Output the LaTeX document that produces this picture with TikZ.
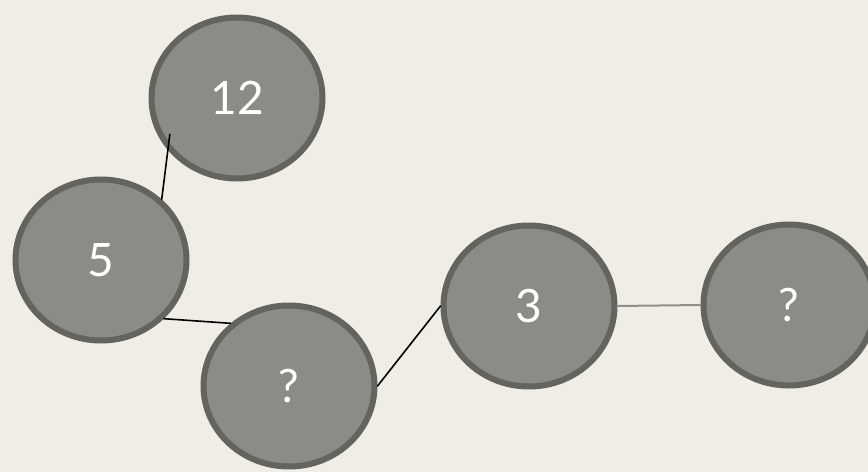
\documentclass[tikz,border=0pt]{standalone}
\usepackage{fontspec}
\setmainfont{Lato}
\usetikzlibrary{shapes.geometric}
\definecolor{paper}{HTML}{F0EDE6}
\definecolor{ballfill}{HTML}{8B8C85}
\definecolor{ballrim}{HTML}{63645E}
\definecolor{linkgray}{HTML}{8F908A}
\tikzset{
  ball/.style={ellipse, draw=ballrim, fill=ballfill, line width=6pt,
    minimum width=171pt, minimum height=161pt, text=white,
    font=\fontsize{46}{50}\selectfont, inner sep=0pt},
  link/.style={black, line width=1.6pt},
  faintlink/.style={linkgray, line width=2pt}
}
\begin{document}
\begin{tikzpicture}[x=1pt,y=1pt, line cap=round]
\useasboundingbox (0,0) rectangle (868,472);
\fill[paper] (0,0) rectangle (868,472);
\begin{scope}
\clip (0,0) rectangle (868,472);
% the five balls
\node[ball] (n12) at (237,374) {12};
\node[ball] (n5) at (101,212) {5};
\node[ball] (qa) at (289,86) {?};
\node[ball] (n3) at (529,166) {3};
\node[ball] (qb) at (789,167) {?};
% links
\draw[link, shorten <=-16pt] (n12.217) -- (n5.45);
\draw[link] (n5.-43) -- (qa.133);
\draw[link] (qa.east) -- (n3.west);
\draw[faintlink] (n3.east) -- (qb.west);
\end{scope}
\end{tikzpicture}
\end{document}
